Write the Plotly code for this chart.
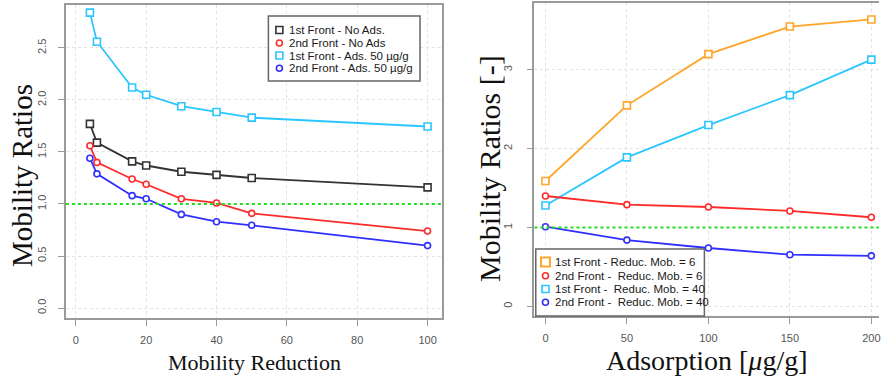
import plotly.graph_objects as go

# ---- data -------------------------------------------------------------
mob_reduction = [4, 6, 16, 20, 30, 40, 50, 100]
first_no_ads = [1.77, 1.59, 1.41, 1.37, 1.31, 1.28, 1.25, 1.16]
second_no_ads = [1.56, 1.40, 1.24, 1.19, 1.05, 1.01, 0.91, 0.74]
first_ads50 = [2.84, 2.56, 2.12, 2.05, 1.94, 1.885, 1.83, 1.745]
second_ads50 = [1.44, 1.29, 1.08, 1.05, 0.90, 0.83, 0.795, 0.60]

adsorption = [0, 50, 100, 150, 200]
first_rm6 = [1.59, 2.55, 3.20, 3.55, 3.64]
second_rm6 = [1.40, 1.29, 1.26, 1.21, 1.13]
first_rm40 = [1.28, 1.89, 2.30, 2.68, 3.13]
second_rm40 = [1.01, 0.84, 0.74, 0.655, 0.64]

left_x_ticks = [0, 20, 40, 60, 80, 100]
left_y_ticks = [0.0, 0.5, 1.0, 1.5, 2.0, 2.5]
right_x_ticks = [0, 50, 100, 150, 200]
right_y_ticks = [0, 1, 2, 3]

left_legend = ["1st Front - No Ads.", "2nd Front - No Ads",
               "1st Front - Ads. 50 \u00b5g/g", "2nd Front - Ads. 50 \u00b5g/g"]
right_legend = ["1st Front - Reduc. Mob. = 6", "2nd Front -  Reduc. Mob. = 6",
                "1st Front -  Reduc. Mob. = 40", "2nd Front -  Reduc. Mob. = 40"]

# ---- styling ----------------------------------------------------------
W, H = 881, 380
BLACK, RED, CYAN, BLUE, ORANGE = "#333333", "#ff2b2b", "#2cc6ff", "#2f2fff", "#ffa52a"
GREEN = "#22e022"
BOX = "#9a9a9a"
GRID = "#e2e2e2"
TICKFONT = dict(family="Liberation Sans, Arial", size=11, color="#555555")
SERIF = "Liberation Serif, Times New Roman, serif"


def px_x(p):
    return p / W


def px_y(p):
    return 1 - p / H


fig = go.Figure()


def add_series(x, y, color, symbol, xa, ya, msize):
    fig.add_trace(go.Scatter(
        x=x, y=y, mode="lines+markers", xaxis=xa, yaxis=ya, showlegend=False,
        line=dict(color=color, width=1.8),
        marker=dict(symbol=symbol, size=msize, color="white",
                    line=dict(color=color, width=1.6)),
        cliponaxis=False,
    ))


add_series(mob_reduction, first_ads50, CYAN, "square", "x", "y", 7)
add_series(mob_reduction, first_no_ads, BLACK, "square", "x", "y", 7)
add_series(mob_reduction, second_no_ads, RED, "circle", "x", "y", 6)
add_series(mob_reduction, second_ads50, BLUE, "circle", "x", "y", 6)

add_series(adsorption, first_rm6, ORANGE, "square", "x2", "y2", 7)
add_series(adsorption, first_rm40, CYAN, "square", "x2", "y2", 7)
add_series(adsorption, second_rm6, RED, "circle", "x2", "y2", 6)
add_series(adsorption, second_rm40, BLUE, "circle", "x2", "y2", 6)

axis_common = dict(
    showgrid=True, gridcolor=GRID, griddash="dot", gridwidth=1,
    showline=True, linecolor=BOX, linewidth=1.5,
    ticks="outside", ticklen=6, tickcolor=BOX, tickwidth=1,
    tickfont=TICKFONT, zeroline=False, ticklabeloverflow="allow",
)

fig.update_layout(
    width=W, height=H,
    margin=dict(l=0, r=0, t=0, b=0),
    paper_bgcolor="white", plot_bgcolor="white",
    showlegend=False,
    xaxis=dict(domain=[px_x(66), px_x(443)], range=[-2.84, 104.1],
               tickvals=left_x_ticks, mirror=True, anchor="y",
               ticklabelstandoff=5, **axis_common),
    yaxis=dict(domain=[px_y(318), px_y(5)], range=[-0.096, 2.913],
               tickvals=left_y_ticks, ticktext=[f"{v:.1f}" for v in left_y_ticks],
               tickangle=-90, mirror=True, anchor="x",
               ticklabelstandoff=8, **axis_common),
    xaxis2=dict(domain=[px_x(535.7), 1.0], range=[-6.73, 204.7],
                tickvals=right_x_ticks, mirror=True, anchor="y2",
                ticklabelstandoff=5, **axis_common),
    yaxis2=dict(domain=[px_y(316), px_y(3)], range=[-0.123, 3.849],
                tickvals=right_y_ticks, tickangle=-90, anchor="x2",
                ticklabelstandoff=10, **axis_common),
)

# reference line at a mobility ratio of 1
for xr, yr in (("x domain", "y"), ("x2 domain", "y2")):
    fig.add_shape(type="line", xref=xr, yref=yr, x0=0, x1=1, y0=1, y1=1,
                  line=dict(color=GREEN, width=2, dash="dot"), layer="above")

# axis titles
titles = [
    dict(text="Mobility Ratios", x=22, y=175, angle=-90, size=29),
    dict(text="Mobility Reduction", x=255, y=362, angle=0, size=22),
    dict(text="Mobility Ratios [-]", x=490, y=168, angle=-90, size=30),
    dict(text="Adsorption [<i>\u03bc</i>g/g]", x=709, y=360, angle=0, size=28),
]
for t in titles:
    fig.add_annotation(text=t["text"], xref="paper", yref="paper",
                       x=px_x(t["x"]), y=px_y(t["y"]), xanchor="center",
                       yanchor="middle", textangle=t["angle"], showarrow=False,
                       font=dict(family=SERIF, size=t["size"], color="#111111"))


def draw_legend(box, marker_x, text_x, rows, labels, colors, symbols, sizes):
    x0, y0, x1, y1 = box
    fig.add_shape(type="rect", xref="paper", yref="paper",
                  x0=px_x(x0), x1=px_x(x1), y0=px_y(y1), y1=px_y(y0),
                  line=dict(color="#666666", width=1.5), fillcolor="white",
                  layer="above")
    for ry, lab, col, sym, s in zip(rows, labels, colors, symbols, sizes):
        h = s / 2
        fig.add_shape(type="rect" if sym == "square" else "circle",
                      xref="paper", yref="paper",
                      x0=px_x(marker_x - h), x1=px_x(marker_x + h),
                      y0=px_y(ry + h), y1=px_y(ry - h),
                      line=dict(color=col, width=1.6 if s < 8 else 2),
                      fillcolor="white", layer="above")
        fig.add_annotation(text=lab, xref="paper", yref="paper",
                           x=px_x(text_x), y=px_y(ry), xanchor="left",
                           yanchor="middle", showarrow=False,
                           font=dict(family="Liberation Sans, Arial", size=11.5,
                                     color="#1a1a1a"))


draw_legend((269, 16, 421, 81), 280, 288, [30, 43, 55.5, 68.3], left_legend,
            [BLACK, RED, CYAN, BLUE], ["square", "circle", "square", "circle"],
            [7, 6, 7, 6])
draw_legend((537, 249, 706, 316), 546.7, 554, [262, 275.7, 289, 302.3],
            right_legend, [ORANGE, RED, CYAN, BLUE],
            ["square", "circle", "square", "circle"], [9, 6, 7, 6])

fig.write_html("out.html")
